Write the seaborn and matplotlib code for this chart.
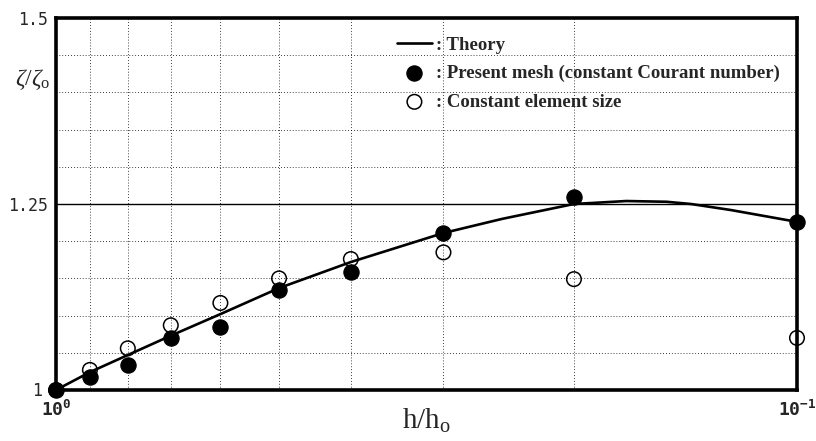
import matplotlib
matplotlib.use("Agg")
import matplotlib.pyplot as plt
import matplotlib.transforms as mtransforms
import seaborn as sns
import pandas as pd
from matplotlib.ticker import FixedLocator, FixedFormatter, NullFormatter

# ---- data ----
h_points = [1.0, 0.9, 0.8, 0.7, 0.6, 0.5, 0.4, 0.3, 0.2, 0.1]
present_mesh = [1.000, 1.018, 1.034, 1.070, 1.085, 1.134, 1.159, 1.211, 1.260, 1.226]
const_elem = [1.000, 1.027, 1.056, 1.087, 1.117, 1.150, 1.176, 1.185, 1.149, 1.070]

h_theory = [1.0, 0.9, 0.8, 0.7, 0.6, 0.5, 0.4, 0.3, 0.25, 0.2, 0.17, 0.15, 0.139, 0.123, 0.1]
theory = [1.000, 1.024, 1.047, 1.073, 1.102, 1.137, 1.172, 1.211, 1.230, 1.250, 1.254,
          1.253, 1.250, 1.242, 1.226]

ytick_vals = [1.0, 1.25, 1.5]
ytick_labels = ["1", "1.25", "1.5"]
xtick_vals = [1.0, 0.1]
xtick_labels = [r"$\mathbf{10^{0}}$", r"$\mathbf{10^{-1}}$"]
x_minor = [0.9, 0.8, 0.7, 0.6, 0.5, 0.4, 0.3, 0.2]
y_minor = [1.05, 1.10, 1.15, 1.20, 1.30, 1.35, 1.40, 1.45]

labels = [": Theory", ": Present mesh (constant Courant number)", ": Constant element size"]

sns.set_theme(style="white")
plt.rcParams["mathtext.fontset"] = "custom"
plt.rcParams["mathtext.rm"] = "Liberation Serif"
plt.rcParams["mathtext.it"] = "Liberation Serif:italic"
plt.rcParams["mathtext.bf"] = "DejaVu Sans Mono:bold"
plt.rcParams["font.family"] = ["DejaVu Sans"]

fig = plt.figure(figsize=(8.16, 4.41), dpi=100)
ax = fig.add_axes([56/816, 1-390/441, (797-56)/816, (390-18)/441])

df_t = pd.DataFrame({"h": h_theory, "v": theory})
df_p = pd.DataFrame({"h": h_points, "v": present_mesh})
df_c = pd.DataFrame({"h": h_points, "v": const_elem})

sns.lineplot(data=df_t, x="h", y="v", ax=ax, color="black", lw=1.9, sort=False,
             label=labels[0], zorder=3)
sns.scatterplot(data=df_c, x="h", y="v", ax=ax, s=110, facecolor="none",
                edgecolor="black", linewidth=1.1, label=labels[2], zorder=4)
sns.scatterplot(data=df_p, x="h", y="v", ax=ax, s=120, color="black",
                edgecolor="black", label=labels[1], zorder=5)
for coll in ax.collections:
    coll.set_clip_on(False)

ax.set_xscale("log")
ax.set_xlim(1.0, 0.1)
ax.set_ylim(1.0, 1.5)

ax.xaxis.set_major_locator(FixedLocator(xtick_vals))
ax.xaxis.set_major_formatter(FixedFormatter(xtick_labels))
ax.xaxis.set_minor_locator(FixedLocator(x_minor))
ax.xaxis.set_minor_formatter(NullFormatter())
ax.yaxis.set_major_locator(FixedLocator(ytick_vals))
ax.yaxis.set_major_formatter(FixedFormatter(ytick_labels))
ax.yaxis.set_minor_locator(FixedLocator(y_minor))

ax.tick_params(axis="both", which="both", length=0)
ax.tick_params(axis="y", labelsize=12, pad=6)
ax.tick_params(axis="x", labelsize=13, pad=7)
for t in ax.get_yticklabels():
    t.set_family("DejaVu Sans Mono")

# nudge the "1" label left so the marker at (1, 1) does not hide it
ytl = ax.get_yticklabels()
ytl[0].set_transform(ytl[0].get_transform() +
                     mtransforms.ScaledTranslation(-4/72, 1/72, fig.dpi_scale_trans))

ax.grid(False)
ax.grid(which="minor", axis="both", color="black", ls=(0, (1, 2.5)), lw=0.6)
ax.axhline(1.25, color="black", lw=1.0, zorder=2)

for s in ax.spines.values():
    s.set_visible(True)
    s.set_color("black")
    s.set_linewidth(2.6)

ax.set_xlabel(r"h/h$_{\mathrm{o}}$", fontsize=21, family="Liberation Serif")
ax.xaxis.set_label_coords(0.5, -0.045)
ax.set_ylabel(r"$\zeta/\zeta_{\mathrm{o}}$", fontsize=17, rotation=0)
ax.yaxis.set_label_coords(-0.031, 0.80)

handles, labs = ax.get_legend_handles_labels()
order = [labs.index(l) for l in labels]
leg = ax.legend([handles[i] for i in order], [labs[i] for i in order],
                loc="upper left", bbox_to_anchor=(0.447, 0.975), frameon=False,
                prop={"family": "Liberation Serif", "weight": "bold", "size": 13.5},
                handlelength=1.9, handletextpad=0.2, labelspacing=0.6, borderpad=0)

fig.savefig("out.png", dpi=100)
